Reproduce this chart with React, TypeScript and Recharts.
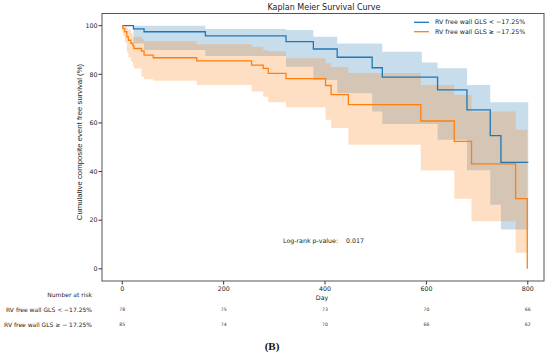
import React from 'react';
import {
  Area,
  ComposedChart,
  Line,
  XAxis,
  YAxis
} from 'recharts';

// Kaplan-Meier steps (day, survival %)
const blueDays = [0, 22, 43, 164, 323, 377, 424, 493, 513, 622, 680, 726, 747, 801];
const blueSurv = [100, 98.7, 97.5, 95.8, 93.4, 90.4, 87.0, 82.7, 78.8, 73.6, 65.4, 54.8, 43.8, 43.8];

const blueBandDays = [0, 22, 43, 164, 323, 377, 424, 493, 513, 591, 622, 680, 726, 747, 801];
const blueUpper = [100, 100, 100, 98.6, 98.2, 95.4, 92.7, 92.7, 89.3, 84.9, 82.5, 75.6, 68.5, 68.5, 68.5];
const blueLower = [100, 92.7, 90, 87.5, 83.1, 77.7, 72.2, 64.7, 59.6, 59.6, 53.1, 40.5, 26.4, 16.2, 16.2];

const orangeDays = [0, 1, 5, 9, 12, 17, 21, 23, 38, 43, 61, 147, 255, 278, 288, 323, 401, 412, 446, 589, 655, 689, 776, 799];
const orangeSurv = [100, 98.8, 97.5, 95.4, 94.0, 92.7, 91.7, 90.6, 89.5, 87.9, 86.8, 85.5, 83.8, 82.4, 80.4, 78.2, 75.4, 71.6, 67.5, 60.8, 52.4, 43.2, 28.9, 0];
const orangeUpper = [100, 100, 99.8, 99, 98.3, 97, 95.4, 95.4, 94.5, 93.6, 93.6, 92.4, 91.3, 89.9, 89.5, 86.6, 84.5, 83, 80.5, 75.6, 71.5, 64.7, 57.2, 57.2];
const orangeLower = [100, 96, 93, 89, 87, 85.2, 83.5, 82.4, 79, 78, 77.3, 75.6, 72.9, 70.8, 68.5, 66.5, 61.3, 57.9, 51, 40.4, 28.8, 19.6, 6.6, 6.6];

const dayTicks = [0, 200, 400, 600, 800];
const survTicks = [0, 20, 40, 60, 80, 100];
// number at risk at each day tick
const riskLow = [78, 75, 73, 70, 66];
const riskHigh = [85, 74, 70, 66, 62];

const labelLow = 'RV free wall GLS < \u221217.25%';
const labelHigh = 'RV free wall GLS \u2265 \u221217.25%';

const BLUE = '#1f77b4';
const ORANGE = '#ff7f0e';
const FRAME = '#555';

const blueLine = blueDays.map((d, i) => ({ day: d, s: blueSurv[i] }));
const blueBand = blueBandDays.map((d, i) => ({ day: d, band: [blueLower[i], blueUpper[i]] }));
const orangeLine = orangeDays.map((d, i) => ({ day: d, s: orangeSurv[i] }));
const orangeBand = orangeDays.map((d, i) => ({ day: d, band: [orangeLower[i], orangeUpper[i]] }));
const riskRowLow = dayTicks.map((d, i) => ({ day: d, n: riskLow[i] }));
const riskRowHigh = dayTicks.map((d, i) => ({ day: d, n: riskHigh[i] }));

const tickFont = { fontSize: 6.3, fill: '#222', fontFamily: 'DejaVu Sans' };
const riskFont = { fontSize: 4.6, fill: '#333', fontFamily: 'DejaVu Sans' };
const small = { fontSize: 6.3, fill: '#222', fontFamily: 'DejaVu Sans' };
const rowLabel = { fontSize: 6, fill: '#222', fontFamily: 'DejaVu Sans' };

// plot box (matches chart margins / axis sizes below)
const box = { left: 102, top: 13.5, right: 544, bottom: 281 };

const App = () => {
  return (
    <div style={{ position: 'absolute', left: 0, top: 0, width: 550, height: 358, background: '#fff' }}>
      <ComposedChart
        width={550}
        height={358}
        margin={{ top: box.top, right: 550 - box.right, left: 0, bottom: 24 }}
      >
        <XAxis
          xAxisId={0}
          dataKey="day"
          type="number"
          domain={[-40, 832]}
          ticks={dayTicks}
          allowDataOverflow
          height={23}
          axisLine={false}
          tickSize={3.5}
          tickMargin={2}
          tickLine={{ stroke: '#333' }}
          tick={tickFont}
        />
        <XAxis
          xAxisId="r1"
          dataKey="day"
          type="number"
          domain={[-40, 832]}
          ticks={dayTicks}
          allowDataOverflow
          height={15}
          axisLine={false}
          tickLine={false}
          tickSize={0}
          tickMargin={4}
          tickFormatter={(v) => String(riskLow[dayTicks.indexOf(v)] ?? '')}
          tick={riskFont}
        />
        <XAxis
          xAxisId="r2"
          dataKey="day"
          type="number"
          domain={[-40, 832]}
          ticks={dayTicks}
          allowDataOverflow
          height={15}
          axisLine={false}
          tickLine={false}
          tickSize={0}
          tickMargin={4}
          tickFormatter={(v) => String(riskHigh[dayTicks.indexOf(v)] ?? '')}
          tick={riskFont}
        />
        <YAxis
          type="number"
          domain={[-5, 105]}
          ticks={survTicks}
          allowDataOverflow
          width={box.left}
          axisLine={false}
          tickSize={3.5}
          tickMargin={1}
          tickLine={{ stroke: '#333' }}
          tick={tickFont}
        />
        <Area
          data={blueBand}
          dataKey="band"
          type="stepAfter"
          stroke="none"
          fill={BLUE}
          fillOpacity={0.25}
          isAnimationActive={false}
        />
        <Line
          data={blueLine}
          dataKey="s"
          type="stepAfter"
          stroke={BLUE}
          strokeWidth={1.3}
          dot={false}
          isAnimationActive={false}
        />
        <Area
          data={orangeBand}
          dataKey="band"
          type="stepAfter"
          stroke="none"
          fill={ORANGE}
          fillOpacity={0.25}
          isAnimationActive={false}
        />
        <Line
          data={orangeLine}
          dataKey="s"
          type="stepAfter"
          stroke={ORANGE}
          strokeWidth={1.3}
          dot={false}
          isAnimationActive={false}
        />
        {/* invisible carriers so the risk-table axes get drawn */}
        <Line
          xAxisId="r1"
          data={riskRowLow}
          dataKey="n"
          stroke="none"
          dot={false}
          activeDot={false}
          isAnimationActive={false}
        />
        <Line
          xAxisId="r2"
          data={riskRowHigh}
          dataKey="n"
          stroke="none"
          dot={false}
          activeDot={false}
          isAnimationActive={false}
        />
      </ComposedChart>
      <svg
        width={550}
        height={358}
        style={{ position: 'absolute', left: 0, top: 0, pointerEvents: 'none' }}
      >
        <rect
          x={box.left}
          y={box.top}
          width={box.right - box.left}
          height={box.bottom - box.top}
          fill="none"
          stroke={FRAME}
          strokeWidth={1}
        />
        <text x={324} y={10} textAnchor="middle" fontSize={8} fontFamily="DejaVu Sans" fill="#222">
          Kaplan Meier Survival Curve
        </text>
        <text
          x={81.7}
          y={142}
          textAnchor="middle"
          fontSize={7.8}
          fontFamily="Liberation Sans"
          fill="#222"
          transform="rotate(-90, 81.7, 142)"
        >
          Cumulative composite event free survival (%)
        </text>
        <line x1={414} x2={429} y1={22.3} y2={22.3} stroke={BLUE} strokeWidth={1.3} />
        <line x1={414} x2={429} y1={31.7} y2={31.7} stroke={ORANGE} strokeWidth={1.3} />
        <text x={435} y={24.4} {...small}>{labelLow}</text>
        <text x={435} y={33.8} {...small}>{labelHigh}</text>
        <text x={283} y={243.2} {...small}>Log-rank p-value:</text>
        <text x={346} y={243.2} {...small}>0.017</text>
        <text x={322} y={300} textAnchor="middle" {...small}>Day</text>
        <text x={92} y={296.8} textAnchor="end" {...rowLabel}>Number at risk</text>
        <text x={92} y={311.8} textAnchor="end" {...rowLabel}>{labelLow}</text>
        <text x={92} y={326.6} textAnchor="end" {...rowLabel}>RV free wall GLS {'\u2265'} {'\u2212'} 17.25%</text>
        <text x={272} y={350} textAnchor="middle" fontSize={11} fontWeight="bold" fontFamily="Liberation Serif" fill="#111">
          (B)
        </text>
      </svg>
    </div>
  );
};

export default App;
